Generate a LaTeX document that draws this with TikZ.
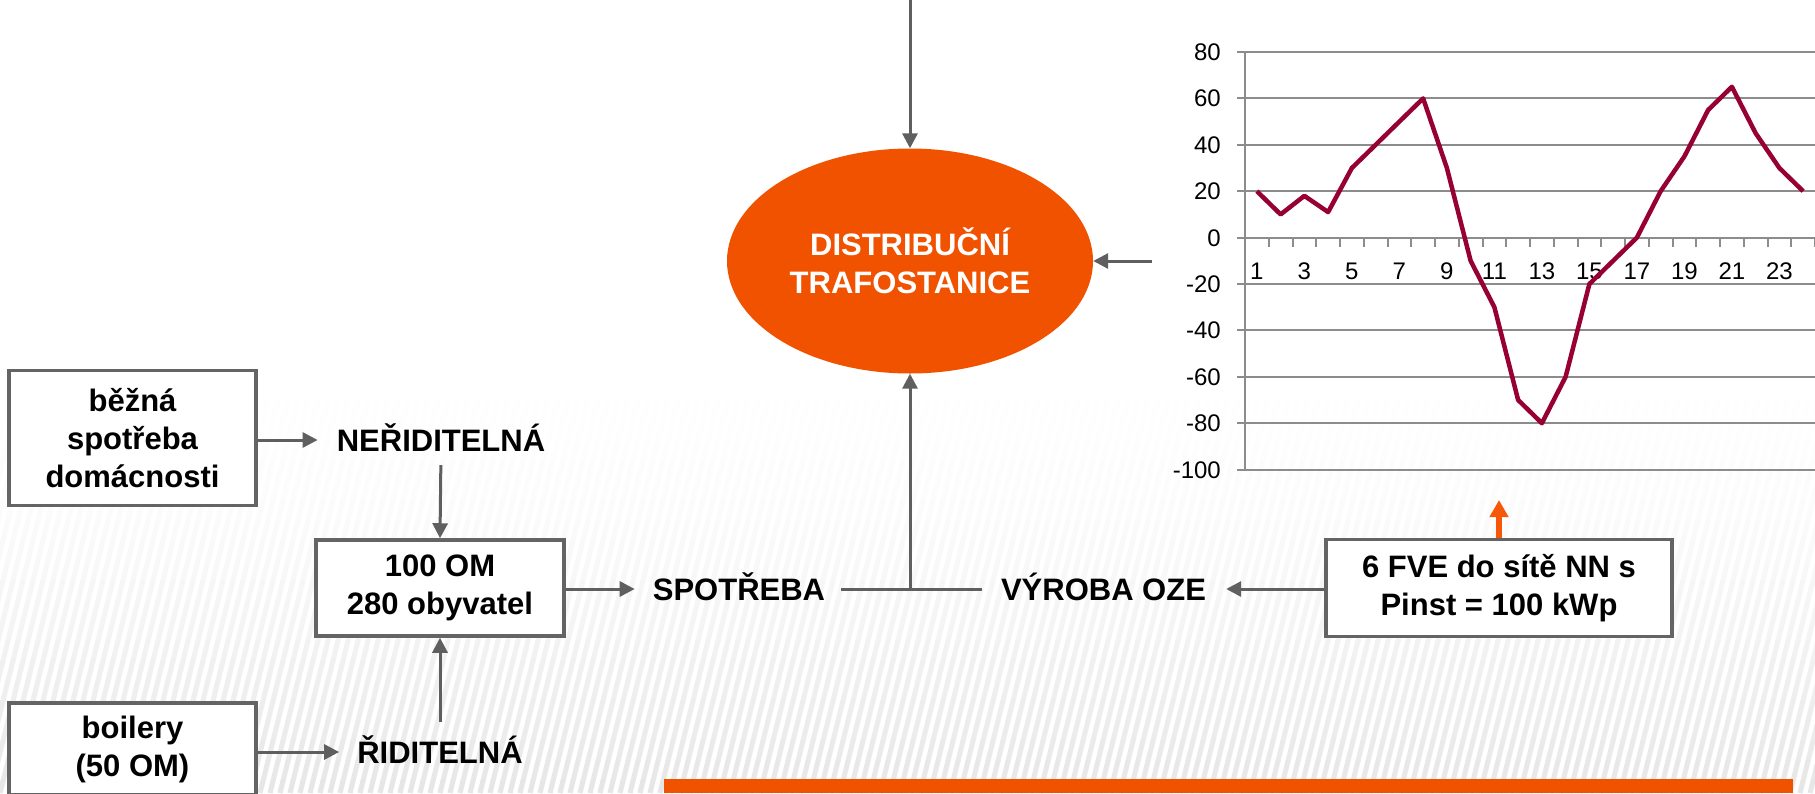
\documentclass[tikz,border=0pt]{standalone}
\usepackage{fontspec}
\setmainfont{Liberation Sans}
\usetikzlibrary{arrows.meta,shapes.geometric}
\definecolor{orng}{RGB}{240,82,0}
\definecolor{orngarrow}{RGB}{246,88,10}
\definecolor{arrowgray}{RGB}{95,95,95}
\definecolor{boxgray}{RGB}{100,100,100}
\definecolor{gridgray}{RGB}{140,140,140}
\definecolor{wine}{RGB}{150,0,50}
\definecolor{stripecol}{RGB}{230,230,230}
\tikzset{
  lbl/.style={font=\bfseries\fontsize{31}{38}\selectfont, inner sep=0pt, text height=22pt, text depth=0pt},
  boxn/.style={draw=boxgray, line width=3.5pt, fill=white, align=center, inner sep=0pt,
               font=\bfseries\fontsize{31}{38}\selectfont},
  arr/.style={draw=arrowgray, line width=3pt, -{Triangle[length=15pt,width=15pt]}},
  plainline/.style={draw=arrowgray, line width=3pt},
  gridline/.style={draw=gridgray, line width=2pt},
  ticklbl/.style={font=\fontsize{24}{28}\selectfont, inner sep=0pt, text height=17pt, text depth=0pt},
}
\begin{document}
\begin{tikzpicture}[x=1pt,y=-1pt]
\useasboundingbox (0,0) rectangle (1815,793);
\clip (0,0) rectangle (1815,793);
\fill[white] (0,0) rectangle (1815,793);
% background stripes fading in
\foreach \k in {0,...,20} {
  \pgfmathtruncatemacro\pct{((\k+1)/21)^1.6*100}
  \begin{scope}
    \clip (0,{380+\k*20}) rectangle (1815,{400.5+\k*20});
    \foreach \s in {-120,-110,...,1820}
      \draw[stripecol!\pct!white, line width=5pt] (\s,793) -- ++(108,-433);
  \end{scope}
}
% chart
\foreach \v in {80,60,...,-100} {
  \draw[gridline] (1237,{237.6-2.32*\v}) -- (1815,{237.6-2.32*\v});
  \node[ticklbl, anchor=east] at (1221,{237.6-2.32*\v}) {\v};
}
\draw[gridline] (1245,52) -- (1245,470);
\foreach \k in {1,...,24}
  \draw[gridline] ({1245+\k*23.75},237.6) -- ++(0,9);
\foreach \i in {1,3,...,23}
  \node[ticklbl] at ({1233.125+23.75*\i},271) {\i};
\draw[wine, line width=4.5pt, line join=round]
  (1256.875,{237.6-2.32*20})
  \foreach \i/\v in {2/10,3/18,4/11,5/30,6/40,7/50,8/60,9/30,10/-10,11/-30,12/-70,13/-80,14/-60,15/-20,16/-10,17/0,18/20,19/35,20/55,21/65,22/45,23/30,24/20}
  { -- ({1233.125+23.75*\i},{237.6-2.32*\v}) };
% nodes
\node[ellipse, fill=orng, inner sep=0pt, minimum width=366pt, minimum height=225pt,
      align=center, text=white, font=\bfseries\fontsize{31}{38}\selectfont] (ell) at (910,261)
      {DISTRIBUČNÍ\\TRAFOSTANICE};
\node[boxn, minimum width=247pt, minimum height=135pt] (b1) at (132.5,438) {běžná\\spotřeba\\domácnosti};
\node[lbl] (ner) at (441,440) {NEŘIDITELNÁ};
\node[boxn, minimum width=248pt, minimum height=96pt] (om) at (440,588) {100 OM\\280 obyvatel};
\node[lbl] (rid) at (440,752) {ŘIDITELNÁ};
\node[boxn, minimum width=247pt, minimum height=92pt] (b2) at (132.5,749) {boilery\\(50 OM)};
\node[lbl] (sp) at (739,589) {SPOTŘEBA};
\node[lbl] (vy) at (1103.5,589) {VÝROBA OZE};
\node[boxn, minimum width=346pt, minimum height=97pt] (fve) at (1499,588) {6 FVE do sítě NN s\\Pinst = 100 kWp};
\coordinate (topin) at (910,0);
\coordinate (rin) at (1152,261);
\coordinate (otip) at (1499,500);
\coordinate (j) at (ell.south |- sp);
% connectors
\draw[arr] (topin) -- (ell.north);
\draw[arr] (rin) -- (ell.east);
\draw[arr, shorten >=19pt] (b1.east |- ner.west) -- (ner.west);
\draw[arr, shorten <=14pt] (ner.south) -- (om.north);
\draw[arr, shorten <=19pt] (rid.north) -- (om.south);
\draw[arr, shorten >=18pt] (b2.east |- rid.west) -- (rid.west);
\draw[arr, shorten >=18pt] (om.east |- sp.west) -- (sp.west);
\draw[plainline, shorten <=16pt, shorten >=19pt] (sp.east) -- (vy.west);
\draw[arr] (j) -- (ell.south);
\draw[arr, shorten >=20pt] (fve.west |- vy.east) -- (vy.east);
\draw[draw=orngarrow, line width=6pt, -{Triangle[length=17pt,width=18pt]}] (fve.north) -- (otip);
% bottom bar
\fill[orng] (664,779) rectangle (1793,793);
\end{tikzpicture}
\end{document}
